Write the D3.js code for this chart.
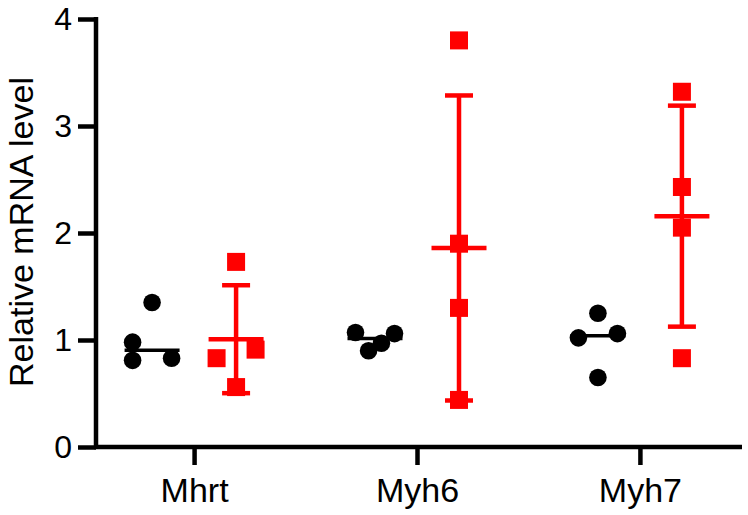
<!DOCTYPE html>
<html>
<head>
<meta charset="utf-8">
<script src="https://cdn.jsdelivr.net/npm/d3@7"></script>
<style>
  body { margin: 0; background: #fff; }
  text { font-family: "Liberation Sans", Arial, sans-serif; }
</style>
</head>
<body>
<div id="chart"></div>
<script>
const genes = ["Mhrt", "Myh6", "Myh7"];
const yTicks = [0, 1, 2, 3, 4];

// control group (black dots), 4 per gene
const ctrlValues = [
    [1.35, 0.98, 0.81, 0.83],
    [1.07, 1.06, 0.90, 0.97],
    [1.25, 1.02, 1.06, 0.65]
];
const ctrlColumn = [
    [0, -1, -1, 1],
    [-1, 1, -0.33, 0.33],
    [0, -1, 1, 0]
];

// treated group (red squares), 4 per gene
const trtValues = [
    [1.73, 0.83, 0.91, 0.56],
    [3.80, 1.90, 1.30, 0.44],
    [3.32, 2.43, 2.05, 0.83]
];
const trtColumn = [
    [0, -1, 1, 0],
    [0, 0, 0, 0],
    [0, 0, 0, 0]
];

function crtaj(){
    var width = 748;
    var height = 515;
    var colGap = 19.5;   // horizontal spread of overlapping points
    var groupOff = 42;   // distance of each group from the tick

    var svg = d3.select("#chart")
        .append("svg")
        .attr("width", width)
        .attr("height", height);

    var x = d3.scalePoint()
        .domain(genes)
        .range([96, 738])
        .padding(0.44);

    var y = d3.scaleLinear()
        .domain([0, 4])
        .range([447, 19]);

    // y os
    var yAxis = svg.append("g")
        .attr("transform", "translate(96,0)")
        .call(d3.axisLeft(y).tickValues(yTicks).tickFormat(d3.format("d")).tickSize(18).tickSizeOuter(0).tickPadding(6));
    yAxis.select(".domain").attr("stroke-width", 4.5).attr("d", "M0,17V449");
    yAxis.selectAll(".tick line").attr("stroke-width", 4.5);
    yAxis.selectAll("text").style("font-size", "32px").attr("fill", "#000");

    // x os
    var xAxis = svg.append("g")
        .attr("transform", "translate(0,447)")
        .call(d3.axisBottom(x).tickSize(18).tickSizeOuter(0).tickPadding(13));
    xAxis.select(".domain").attr("stroke-width", 4.5).attr("d", "M94,0H742");
    xAxis.selectAll(".tick line").attr("stroke-width", 4.5);
    xAxis.selectAll("text").style("font-size", "34px").attr("fill", "#000");

    svg.append("text")
        .attr("transform", "translate(33,232) rotate(-90)")
        .style("text-anchor", "middle")
        .style("font-size", "34px")
        .text("Relative mRNA level");

    var ctrl = genes.map((g, i) => ({
        gene: g,
        pts: ctrlValues[i].map((v, j) => ({v: v, c: ctrlColumn[i][j]})),
        median: d3.median(ctrlValues[i])
    }));
    var trt = genes.map((g, i) => ({
        gene: g,
        pts: trtValues[i].map((v, j) => ({v: v, c: trtColumn[i][j]})),
        mean: d3.mean(trtValues[i]),
        sd: d3.deviation(trtValues[i])
    }));

    // median crta za kontrolu
    svg.selectAll(".med")
        .data(ctrl)
        .enter()
        .append("line")
        .attr("x1", d => x(d.gene) - groupOff - 27.5)
        .attr("x2", d => x(d.gene) - groupOff + 27.5)
        .attr("y1", d => y(d.median))
        .attr("y2", d => y(d.median))
        .attr("stroke", "#000")
        .attr("stroke-width", 3.5);

    // mean +- SD
    var eb = svg.selectAll(".eb")
        .data(trt)
        .enter()
        .append("g")
        .attr("stroke", "#f00")
        .attr("stroke-width", 4.5);
    eb.append("line")
        .attr("x1", d => x(d.gene) + groupOff)
        .attr("x2", d => x(d.gene) + groupOff)
        .attr("y1", d => y(d.mean + d.sd))
        .attr("y2", d => y(d.mean - d.sd));
    eb.append("line")
        .attr("x1", d => x(d.gene) + groupOff - 14)
        .attr("x2", d => x(d.gene) + groupOff + 14)
        .attr("y1", d => y(d.mean + d.sd))
        .attr("y2", d => y(d.mean + d.sd));
    eb.append("line")
        .attr("x1", d => x(d.gene) + groupOff - 14)
        .attr("x2", d => x(d.gene) + groupOff + 14)
        .attr("y1", d => y(d.mean - d.sd))
        .attr("y2", d => y(d.mean - d.sd));
    eb.append("line")
        .attr("x1", d => x(d.gene) + groupOff - 27.5)
        .attr("x2", d => x(d.gene) + groupOff + 27.5)
        .attr("y1", d => y(d.mean))
        .attr("y2", d => y(d.mean));

    // tocke
    ctrl.forEach(grp => {
        svg.selectAll(null)
            .data(grp.pts)
            .enter()
            .append("circle")
            .attr("cx", d => x(grp.gene) - groupOff + d.c * colGap)
            .attr("cy", d => y(d.v))
            .attr("r", 8.8)
            .attr("fill", "#000");
    });
    trt.forEach(grp => {
        svg.selectAll(null)
            .data(grp.pts)
            .enter()
            .append("rect")
            .attr("x", d => x(grp.gene) + groupOff + d.c * colGap - 9)
            .attr("y", d => y(d.v) - 9)
            .attr("width", 18)
            .attr("height", 18)
            .attr("fill", "#f00");
    });
}
crtaj();
</script>
</body>
</html>
